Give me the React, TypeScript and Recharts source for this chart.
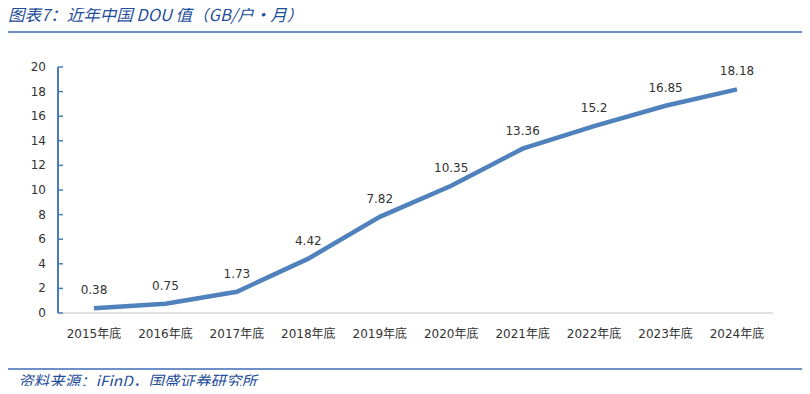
import React from 'react';
import { LineChart, Line, XAxis, YAxis, LabelList } from 'recharts';

const years = ['2015年底', '2016年底', '2017年底', '2018年底', '2019年底', '2020年底', '2021年底', '2022年底', '2023年底', '2024年底'];
const dou = [0.38, 0.75, 1.73, 4.42, 7.82, 10.35, 13.36, 15.2, 16.85, 18.18];
const yTicks = [0, 2, 4, 6, 8, 10, 12, 14, 16, 18, 20];

const data = years.map((y, i) => ({ year: y, dou: dou[i] }));

const FONT = '"DejaVu Sans", "Noto Sans CJK SC", sans-serif';
const AXIS_BLUE = '#4a7ebb';

const YTick = (props: any) => {
    const { x, y, payload } = props;
    return (
        <g>
            <line x1={x + 12} x2={x + 17} y1={y} y2={y} stroke={AXIS_BLUE} strokeWidth={1.5} />
            <text x={x} y={y} dy={4} textAnchor="end" fontSize={12} fill="#333" fontFamily={FONT}>
                {payload.value}
            </text>
        </g>
    );
};

export default function App() {
    return (
        <div style={{ position: 'relative', width: 810, height: 394, margin: -8, background: '#fff', overflow: 'hidden' }}>
            <div
                style={{
                    position: 'absolute',
                    left: 8,
                    top: 3,
                    lineHeight: '22px',
                    fontFamily: '"Noto Sans CJK SC", sans-serif',
                    fontStyle: 'italic',
                    fontSize: 16.5,
                    color: '#1f4e9a',
                    whiteSpace: 'nowrap',
                }}
            >
                图表7：近年中国 DOU 值（GB/户·月）
            </div>
            <div style={{ position: 'absolute', left: 5, right: 5, top: 31, height: 1.5, background: '#6f8fc8' }} />

            <div style={{ position: 'absolute', left: 0, top: 0 }}>
                <LineChart width={810} height={394} data={data} margin={{ top: 67, right: 37, bottom: 51, left: 0 }}>
                    <XAxis
                        dataKey="year"
                        padding={{ left: 36, right: 36 }}
                        axisLine={{ stroke: '#d9d9d9', strokeWidth: 1.5 }}
                        tickLine={false}
                        height={30}
                        tickMargin={10}
                        interval={0}
                        tick={{ fontSize: 12, fill: '#333', fontFamily: FONT }}
                    />
                    <YAxis
                        width={58}
                        domain={[0, 20]}
                        ticks={yTicks}
                        interval={0}
                        axisLine={{ stroke: AXIS_BLUE, strokeWidth: 2 }}
                        tickLine={false}
                        tickSize={0}
                        tickMargin={12}
                        tick={<YTick />}
                    />
                    <Line
                        dataKey="dou"
                        type="linear"
                        stroke="#4f81bd"
                        strokeWidth={4.5}
                        dot={false}
                        isAnimationActive={false}
                    >
                        <LabelList dataKey="dou" position="top" offset={14} fontSize={12} fill="#333" fontFamily={FONT} />
                    </Line>
                </LineChart>
            </div>

            <div style={{ position: 'absolute', left: 5, right: 5, top: 368, height: 1.5, background: '#6f8fc8' }} />
            <div
                style={{
                    position: 'absolute',
                    left: 18,
                    top: 370,
                    lineHeight: '20px',
                    fontFamily: '"Noto Sans CJK SC", sans-serif',
                    fontStyle: 'italic',
                    fontSize: 15.5,
                    color: '#1f4e9a',
                    whiteSpace: 'nowrap',
                }}
            >
                资料来源：iFinD，国盛证券研究所
            </div>
        </div>
    );
}
